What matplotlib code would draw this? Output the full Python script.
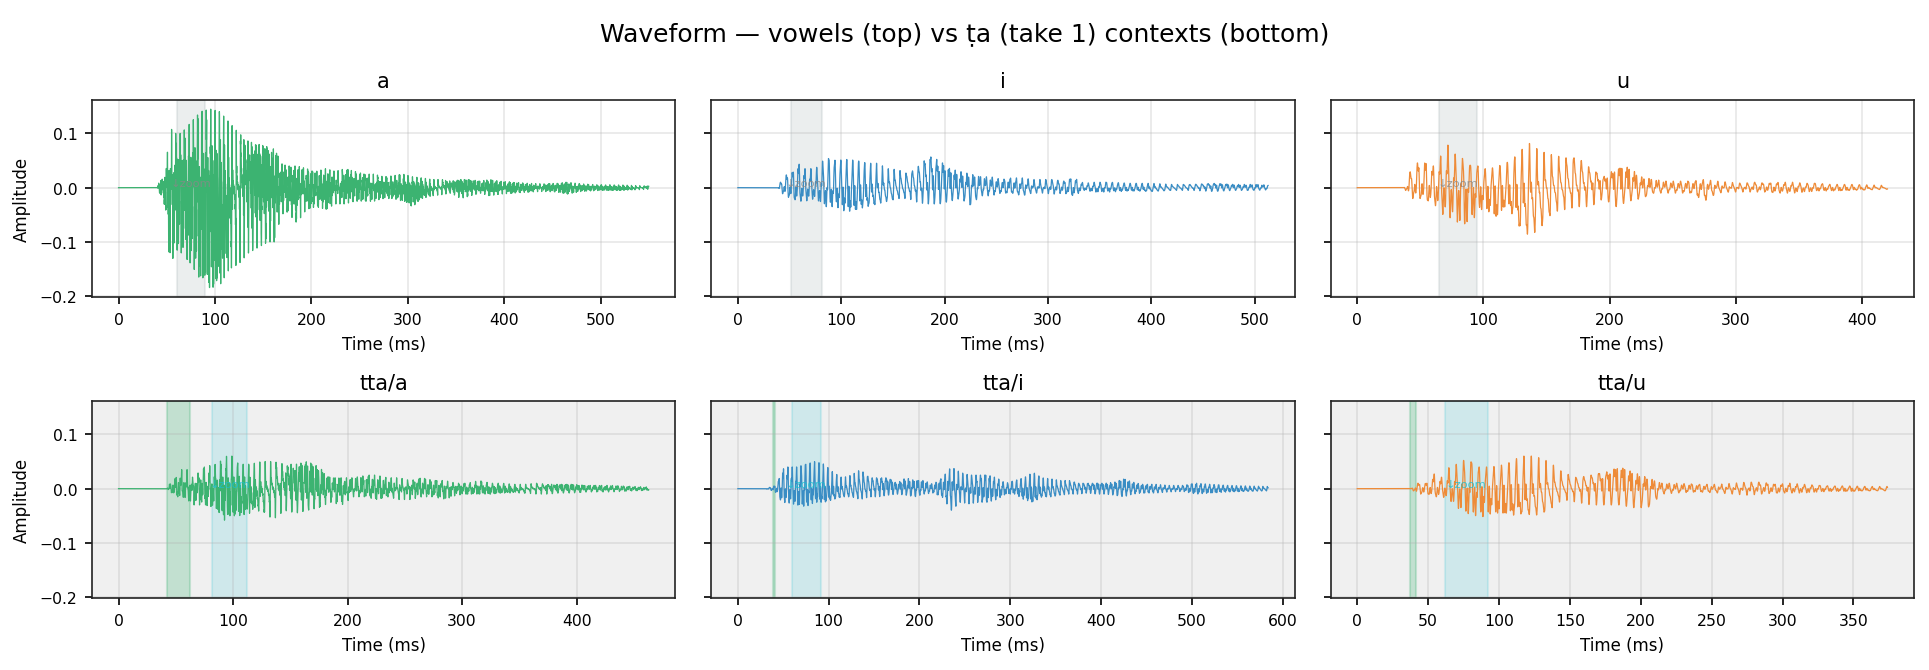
import numpy as np
import matplotlib
matplotlib.use("Agg")
import matplotlib.pyplot as plt
from numpy.lib.stride_tricks import sliding_window_view

# envelope knots (time ms, positive peak, negative peak)
T_A = [0, 40, 44, 47, 50, 54, 58, 65, 75, 85,
       95, 105, 115, 125, 135, 145, 155, 163, 168, 175,
       185, 195, 205, 215, 225, 235, 245, 255, 265, 275,
       285, 295, 305, 315, 325, 335, 345, 355, 365, 375,
       385, 395, 410, 425, 440, 455, 465, 480, 500, 520, 550]
UP_A = [0, 0, 0.02, 0.01, 0.055, 0.11, 0.10, 0.10, 0.12, 0.14,
        0.145, 0.14, 0.12, 0.10, 0.085, 0.08, 0.075, 0.07, 0.045, 0.04,
        0.04, 0.035, 0.03, 0.035, 0.03, 0.035, 0.03, 0.025, 0.025, 0.02,
        0.022, 0.025, 0.02, 0.018, 0.015, 0.015, 0.012, 0.015, 0.015, 0.012,
        0.015, 0.012, 0.01, 0.008, 0.007, 0.008, 0.01, 0.007, 0.005, 0.005, 0.003]
LO_A = [0, 0, -0.015, -0.02, -0.09, -0.145, -0.12, -0.12, -0.14, -0.17,
        -0.185, -0.18, -0.15, -0.14, -0.12, -0.11, -0.10, -0.10, -0.05, -0.045,
        -0.065, -0.04, -0.035, -0.04, -0.03, -0.03, -0.025, -0.025, -0.025, -0.02,
        -0.02, -0.025, -0.035, -0.02, -0.015, -0.013, -0.01, -0.02, -0.015, -0.01,
        -0.015, -0.012, -0.01, -0.008, -0.007, -0.008, -0.012, -0.007, -0.005, -0.005, -0.003]

T_I = [0, 38, 45, 55, 58, 65, 75, 85, 95, 105,
       115, 125, 135, 145, 155, 165, 175, 185, 195, 205,
       215, 225, 235, 245, 255, 265, 275, 285, 295, 305,
       315, 325, 335, 345,
       360, 380, 400, 420, 440, 460, 480, 500, 513]
UP_I = [0, 0, 0.022, 0.03, 0.045, 0.035, 0.035, 0.055, 0.05, 0.052,
        0.05, 0.045, 0.045, 0.035, 0.033, 0.025, 0.04, 0.058, 0.05, 0.035,
        0.03, 0.025, 0.02, 0.02, 0.015, 0.018, 0.018, 0.015, 0.015, 0.015,
        0.012, 0.018, 0.008, 0.01,
        0.01, 0.008, 0.008, 0.006, 0.006, 0.008, 0.006, 0.006, 0.005]
LO_I = [0, 0, -0.015, -0.022, -0.025, -0.025, -0.02, -0.035, -0.035, -0.045,
        -0.04, -0.035, -0.03, -0.025, -0.02, -0.02, -0.028, -0.03, -0.03, -0.025,
        -0.02, -0.032, -0.015, -0.015, -0.01, -0.01, -0.015, -0.01, -0.01, -0.012,
        -0.01, -0.015, -0.005, -0.008,
        -0.008, -0.006, -0.007, -0.005, -0.005, -0.007, -0.005, -0.005, -0.004]

T_U = [0, 37, 42, 50, 57, 63, 68, 73, 78, 83,
       88, 93, 98, 105, 112, 118, 123, 128, 133, 138,
       143, 148, 155, 165, 175, 185, 195, 205, 215, 225,
       235, 245, 255, 265, 275, 285, 295, 305, 315, 325,
       335, 345, 355, 365, 375, 390, 405, 420]
UP_U = [0, 0, 0.03, 0.052, 0.04, 0.04, 0.07, 0.081, 0.06, 0.055,
        0.04, 0.045, 0.035, 0.035, 0.04, 0.045, 0.055, 0.06, 0.08, 0.082,
        0.07, 0.065, 0.06, 0.055, 0.055, 0.035, 0.02, 0.035, 0.038, 0.02,
        0.015, 0.012, 0.012, 0.012, 0.015, 0.012, 0.01, 0.008, 0.01, 0.008,
        0.01, 0.01, 0.008, 0.008, 0.006, 0.006, 0.005, 0.004]
LO_U = [0, 0, -0.02, -0.02, -0.025, -0.035, -0.05, -0.055, -0.06, -0.073,
        -0.06, -0.055, -0.04, -0.045, -0.056, -0.03, -0.05, -0.07, -0.086, -0.085,
        -0.08, -0.065, -0.045, -0.04, -0.035, -0.035, -0.02, -0.035, -0.025, -0.02,
        -0.01, -0.01, -0.01, -0.01, -0.025, -0.01, -0.008, -0.008, -0.008, -0.008,
        -0.01, -0.01, -0.008, -0.006, -0.006, -0.005, -0.004, -0.003]

T_TA = [0, 42, 45, 50, 55, 60, 65, 75, 85, 92,
        97, 105, 115, 125, 135, 145, 155, 165, 175, 185,
        195, 205, 215, 225, 235, 245, 255, 265, 275, 285,
        295, 305, 315, 325, 335, 345, 355, 365, 375, 385,
        395, 410, 430, 450, 463]
UP_TA = [0, 0, 0.01, 0.02, 0.035, 0.035, 0.02, 0.04, 0.045, 0.055,
         0.065, 0.045, 0.045, 0.05, 0.05, 0.045, 0.045, 0.05, 0.04, 0.02,
         0.02, 0.02, 0.025, 0.025, 0.02, 0.02, 0.015, 0.02, 0.015, 0.015,
         0.01, 0.01, 0.015, 0.01, 0.01, 0.008, 0.008, 0.01, 0.008, 0.008,
         0.008, 0.006, 0.006, 0.004, 0.003]
LO_TA = [0, 0, -0.005, -0.015, -0.015, -0.02, -0.03, -0.03, -0.035, -0.059,
         -0.05, -0.05, -0.045, -0.04, -0.057, -0.04, -0.045, -0.04, -0.035, -0.025,
         -0.03, -0.015, -0.015, -0.02, -0.015, -0.02, -0.02, -0.015, -0.015, -0.02,
         -0.012, -0.01, -0.01, -0.01, -0.008, -0.008, -0.008, -0.01, -0.01, -0.008,
         -0.008, -0.006, -0.006, -0.004, -0.003]

T_TI = [0, 30, 40, 44, 48, 55, 65, 75, 85, 95,
        105, 115, 125, 135, 145, 155, 165, 175, 185, 195,
        205, 215, 225, 235, 245, 255, 265, 275, 285, 295,
        305, 315, 325, 335, 345, 355, 365, 375, 385, 395,
        405, 415, 425, 435, 445, 460, 475, 490, 505, 520,
        540, 560, 584]
UP_TI = [0, 0, 0.005, 0.01, 0.035, 0.04, 0.04, 0.045, 0.05, 0.045,
         0.03, 0.02, 0.025, 0.035, 0.02, 0.02, 0.02, 0.01, 0.02, 0.015,
         0.015, 0.008, 0.02, 0.04, 0.03, 0.025, 0.025, 0.025, 0.02, 0.01,
         0.015, 0.02, 0.03, 0.02, 0.018, 0.015, 0.015, 0.01, 0.01, 0.01,
         0.01, 0.012, 0.018, 0.012, 0.008, 0.008, 0.006, 0.006, 0.01, 0.008,
         0.006, 0.005, 0.004]
LO_TI = [0, 0, -0.005, -0.01, -0.025, -0.026, -0.03, -0.033, -0.025, -0.025,
         -0.02, -0.015, -0.015, -0.02, -0.015, -0.015, -0.012, -0.01, -0.012, -0.015,
         -0.01, -0.008, -0.015, -0.04, -0.025, -0.028, -0.025, -0.025, -0.02, -0.01,
         -0.01, -0.02, -0.025, -0.015, -0.015, -0.012, -0.01, -0.01, -0.008, -0.01,
         -0.01, -0.012, -0.015, -0.01, -0.008, -0.008, -0.006, -0.005, -0.01, -0.008,
         -0.006, -0.005, -0.004]

T_TU = [0, 38, 42, 50, 55, 60, 65, 70, 75, 80,
        85, 90, 95, 105, 112, 117, 125, 135, 145, 155,
        165, 175, 185, 195, 205, 215, 225, 240, 255, 265,
        275, 285, 295, 305, 315, 325, 335, 345, 360, 374]
UP_TU = [0, 0, 0.01, 0.01, 0.03, 0.02, 0.04, 0.045, 0.052, 0.05,
         0.04, 0.04, 0.04, 0.045, 0.055, 0.06, 0.06, 0.05, 0.03, 0.02,
         0.025, 0.03, 0.04, 0.03, 0.02, 0.01, 0.01, 0.008, 0.008, 0.01,
         0.012, 0.012, 0.008, 0.01, 0.008, 0.006, 0.005, 0.005, 0.004, 0.004]
LO_TU = [0, 0, -0.01, -0.01, -0.015, -0.015, -0.02, -0.035, -0.04, -0.049,
         -0.05, -0.052, -0.045, -0.045, -0.05, -0.045, -0.05, -0.04, -0.02, -0.025,
         -0.03, -0.03, -0.03, -0.035, -0.035, -0.01, -0.008, -0.006, -0.008, -0.01,
         -0.012, -0.01, -0.008, -0.008, -0.008, -0.006, -0.005, -0.005, -0.004, -0.004]

TITLES = ["a", "i", "u", "tta/a", "tta/i", "tta/u"]
ZOOM_TOP = [(60.5, 90.0), (51.0, 81.0), (64.5, 94.5)]       # grey zoom windows
BURST = [(42.0, 62.5), (38.7, 40.9), (37.3, 41.5)]         # green spans, bottom row
ZOOM_BOT = [(82.0, 112.0), (60.0, 91.0), (62.0, 92.0)]      # cyan zoom windows

GREEN, BLUE, ORANGE = "#3cb371", "#3a8dc4", "#ee8b38"
PERIOD = [4.6, 5.9, 6.0, 5.0, 5.0, 5.4]                     # ms, pitch period look
HARM = [[1, 0.9, 0.7, 0.6, 0.55, 0.5, 0.45, 0.4, 0.35],
        [1, 0.5, 0.3, 0.2, 0.15],
        [1, 0.6, 0.35, 0.2, 0.15],
        [1, 0.8, 0.6, 0.5, 0.4, 0.35, 0.3],
        [1, 0.5, 0.35, 0.2, 0.15],
        [1, 0.6, 0.4, 0.25, 0.15]]


def local_peak(x, n):
    pad = np.pad(x, (n // 2, n - 1 - n // 2), mode="edge")
    return sliding_window_view(pad, n).max(axis=1)


def waveform(t_knots, up, lo, period, harm, dt=0.05):
    t = np.arange(0, t_knots[-1] + dt, dt)
    c = np.zeros_like(t)
    for k, w in enumerate(harm, start=1):
        # slightly inharmonic partials so the cycle shape keeps drifting
        f = k * (1 + 0.011 * k) / period
        c += w * np.sin(2 * np.pi * f * t + 1.3 * k * k)
    n = int(1.3 * period / dt)
    pos = local_peak(np.clip(c, 0, None), n) + 1e-9
    neg = local_peak(np.clip(-c, 0, None), n) + 1e-9
    c = np.where(c > 0, c / pos, c / neg)
    eu = np.interp(t, t_knots, up)
    el = np.interp(t, t_knots, lo)
    return t, np.where(c > 0, c * eu, -c * el)


series = [(T_A, UP_A, LO_A, GREEN), (T_I, UP_I, LO_I, BLUE), (T_U, UP_U, LO_U, ORANGE),
          (T_TA, UP_TA, LO_TA, GREEN), (T_TI, UP_TI, LO_TI, BLUE), (T_TU, UP_TU, LO_TU, ORANGE)]

fig, axes = plt.subplots(2, 3, figsize=(12.86, 4.473), dpi=150, sharey=True)
fig.subplots_adjust(left=0.0477, right=0.9922, top=0.8495, bottom=0.1073,
                    wspace=0.062, hspace=0.528)

for i, ax in enumerate(axes.flat):
    tk, up, lo, col = series[i]
    t, y = waveform(tk, up, lo, PERIOD[i], HARM[i])
    row, colx = divmod(i, 3)
    if row == 0:
        a, b = ZOOM_TOP[colx]
        ax.axvspan(a, b, color="#95a5a6", alpha=0.18, lw=1)
        ax.text((a + b) / 2, 0.0, "\u2193zoom", fontsize=5.5, color="#888888",
                alpha=0.8, ha="center", va="bottom", zorder=5)
    else:
        ax.set_facecolor("#f0f0f0")
        a, b = BURST[colx]
        ax.axvspan(a, b, color="mediumseagreen", alpha=0.25, lw=1)
        a, b = ZOOM_BOT[colx]
        ax.axvspan(a, b, color="tab:cyan", alpha=0.15, lw=1)
        ax.text((a + b) / 2, 0.0, "\u2193zoom", fontsize=5.5, color="tab:cyan",
                alpha=0.8, ha="center", va="bottom", zorder=5)
    ax.plot(t, y, color=col, lw=0.6)
    ax.set_title(TITLES[i], fontsize=10)
    ax.set_xlabel("Time (ms)", fontsize=8)
    ax.tick_params(labelsize=7.5)
    ax.grid(alpha=0.3)
    for s in ax.spines.values():
        s.set_color("#222222")
    if colx == 0:
        ax.set_ylabel("Amplitude", fontsize=8)

axes[0, 0].set_ylim(-0.2015, 0.1615)
fig.suptitle("Waveform \u2014 vowels (top) vs \u1e6da (take 1) contexts (bottom)",
             fontsize=12, y=0.965)
fig.savefig("out.png", dpi=150)
